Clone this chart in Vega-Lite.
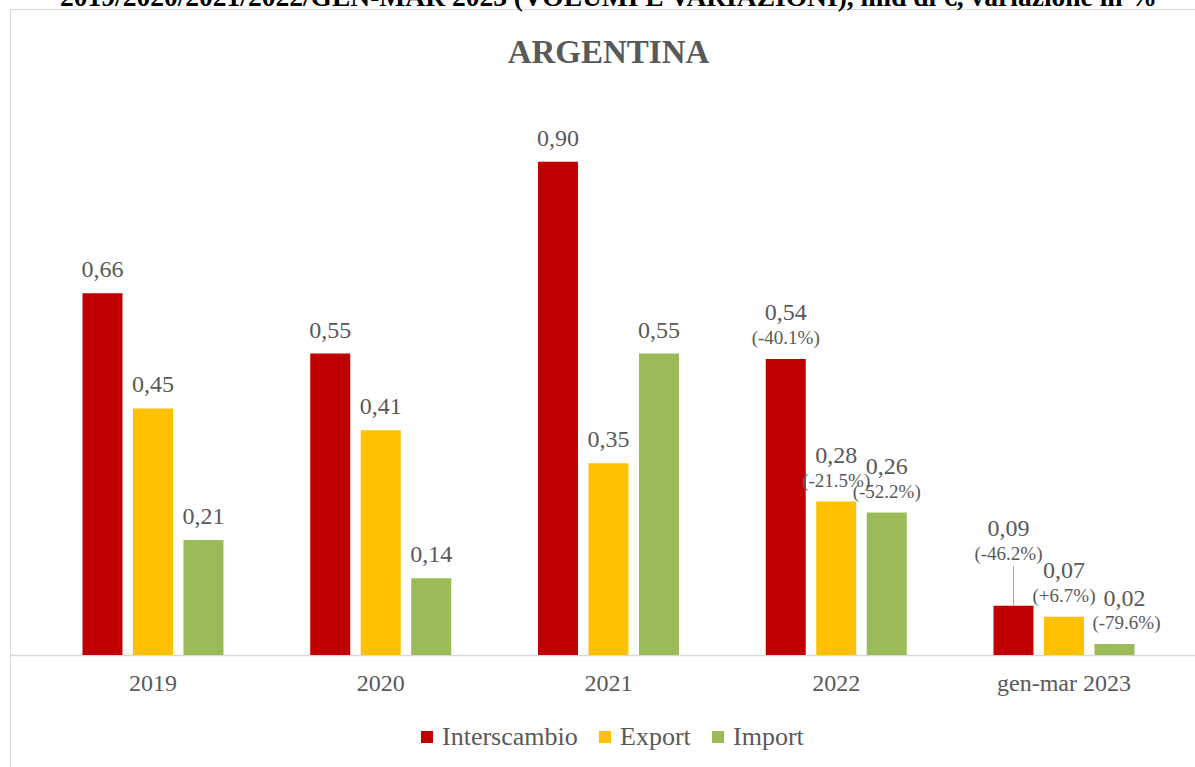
{
  "$schema": "https://vega.github.io/schema/vega-lite/v6.json",
  "autosize": {"type": "none"},
  "width": 1185,
  "height": 758,
  "padding": {"left": 10, "top": 9, "right": 0, "bottom": 0},
  "background": "white",
  "config": {
    "locale": {"number": {"decimal": ",", "thousands": ".", "grouping": [3], "currency": ["€", ""]}},
    "view": {"stroke": "#D9D9D9", "strokeWidth": 1},
    "font": "Liberation Serif"
  },
  "title": {
    "text": "2019/2020/2021/2022/GEN-MAR 2023 (VOLUMI E VARIAZIONI), mld di €, variazione in %",
    "subtitle": "ARGENTINA",
    "anchor": "middle",
    "offset": -61,
    "dx": 6,
    "font": "Liberation Serif",
    "fontSize": 27.5,
    "fontWeight": "bold",
    "color": "#000000",
    "subtitleFont": "Liberation Serif",
    "subtitleFontSize": 33,
    "subtitleFontWeight": "bold",
    "subtitleColor": "#595959",
    "subtitlePadding": 26
  },
  "data": {
    "values": [
      {"cat": "2019", "series": "Interscambio", "value": 0.66, "pct": null},
      {"cat": "2019", "series": "Export", "value": 0.45, "pct": null},
      {"cat": "2019", "series": "Import", "value": 0.21, "pct": null},
      {"cat": "2020", "series": "Interscambio", "value": 0.55, "pct": null},
      {"cat": "2020", "series": "Export", "value": 0.41, "pct": null},
      {"cat": "2020", "series": "Import", "value": 0.14, "pct": null},
      {"cat": "2021", "series": "Interscambio", "value": 0.90, "pct": null},
      {"cat": "2021", "series": "Export", "value": 0.35, "pct": null},
      {"cat": "2021", "series": "Import", "value": 0.55, "pct": null},
      {"cat": "2022", "series": "Interscambio", "value": 0.54, "pct": "(-40.1%)"},
      {"cat": "2022", "series": "Export", "value": 0.28, "pct": "(-21.5%)"},
      {"cat": "2022", "series": "Import", "value": 0.26, "pct": "(-52.2%)"},
      {"cat": "gen-mar 2023", "series": "Interscambio", "value": 0.09, "pct": "(-46.2%)"},
      {"cat": "gen-mar 2023", "series": "Export", "value": 0.07, "pct": "(+6.7%)"},
      {"cat": "gen-mar 2023", "series": "Import", "value": 0.02, "pct": "(-79.6%)"}
    ]
  },
  "encoding": {
    "x": {
      "field": "cat", "type": "nominal", "sort": null,
      "scale": {"paddingInner": 0.381, "paddingOuter": 0.292, "align": 0.545},
      "axis": {
        "title": null, "orient": "bottom", "offset": -112, "ticks": false,
        "domainColor": "#D9D9D9", "domainWidth": 1.5,
        "labelFont": "Liberation Serif", "labelFontSize": 24, "labelColor": "#595959",
        "labelPadding": 16, "labelAngle": 0
      }
    },
    "xOffset": {
      "field": "series", "type": "nominal", "sort": ["Interscambio", "Export", "Import"],
      "scale": {"paddingInner": 0.208, "paddingOuter": 0}
    },
    "y": {
      "field": "value", "type": "quantitative",
      "scale": {"domain": [-0.2044, 1.1788], "nice": false, "zero": false},
      "axis": null
    }
  },
  "layer": [
    {
      "mark": {"type": "bar"},
      "encoding": {
        "y2": {"datum": 0},
        "color": {
          "field": "series", "type": "nominal",
          "sort": ["Interscambio", "Export", "Import"],
          "scale": {"domain": ["Interscambio", "Export", "Import"], "range": ["#C00000", "#FFC000", "#9BBB59"]},
          "legend": {
            "title": null, "orient": "none", "direction": "horizontal",
            "legendX": 404, "legendY": 715,
            "symbolType": "square", "symbolSize": 144, "symbolStrokeWidth": 0,
            "labelFont": "Liberation Serif", "labelFontSize": 26, "labelColor": "#595959",
            "labelOffset": 2, "columnPadding": 14
          }
        }
      }
    },
    {
      "transform": [{"filter": "datum.pct == null"}],
      "mark": {"type": "text", "baseline": "alphabetic", "dy": -16, "fontSize": 24, "color": "#595959", "font": "Liberation Serif"},
      "encoding": {"text": {"field": "value", "type": "quantitative", "format": ".2f"}}
    },
    {
      "transform": [{"filter": "datum.pct != null && !(datum.cat == 'gen-mar 2023' && datum.series != 'Export')"}],
      "mark": {"type": "text", "baseline": "alphabetic", "dy": -39, "fontSize": 24, "color": "#595959", "font": "Liberation Serif"},
      "encoding": {"text": {"field": "value", "type": "quantitative", "format": ".2f"}}
    },
    {
      "transform": [{"filter": "datum.pct != null && !(datum.cat == 'gen-mar 2023' && datum.series != 'Export')"}],
      "mark": {"type": "text", "baseline": "alphabetic", "dy": -15, "fontSize": 19, "color": "#595959", "font": "Liberation Serif"},
      "encoding": {"text": {"field": "pct", "type": "nominal"}}
    },
    {
      "transform": [{"filter": "datum.cat == 'gen-mar 2023' && datum.series == 'Import'"}],
      "mark": {"type": "text", "baseline": "alphabetic", "dy": -38, "dx": 10, "fontSize": 24, "color": "#595959", "font": "Liberation Serif"},
      "encoding": {"text": {"field": "value", "type": "quantitative", "format": ".2f"}}
    },
    {
      "transform": [{"filter": "datum.cat == 'gen-mar 2023' && datum.series == 'Import'"}],
      "mark": {"type": "text", "baseline": "alphabetic", "dy": -15, "dx": 12, "fontSize": 19, "color": "#595959", "font": "Liberation Serif"},
      "encoding": {"text": {"field": "pct", "type": "nominal"}}
    },
    {
      "transform": [{"filter": "datum.cat == 'gen-mar 2023' && datum.series == 'Interscambio'"}],
      "mark": {"type": "text", "baseline": "alphabetic", "dy": -70, "dx": -5, "fontSize": 24, "color": "#595959", "font": "Liberation Serif"},
      "encoding": {"text": {"field": "value", "type": "quantitative", "format": ".2f"}}
    },
    {
      "transform": [{"filter": "datum.cat == 'gen-mar 2023' && datum.series == 'Interscambio'"}],
      "mark": {"type": "text", "baseline": "alphabetic", "dy": -46, "dx": -5, "fontSize": 19, "color": "#595959", "font": "Liberation Serif"},
      "encoding": {"text": {"field": "pct", "type": "nominal"}}
    },
    {
      "transform": [{"filter": "datum.cat == 'gen-mar 2023' && datum.series == 'Interscambio'"}],
      "mark": {"type": "rule", "color": "#A6A6A6", "strokeWidth": 1},
      "encoding": {"y2": {"datum": 0.162}}
    }
  ]
}
